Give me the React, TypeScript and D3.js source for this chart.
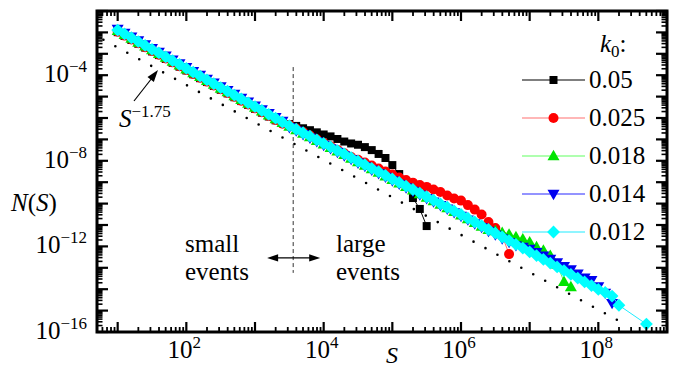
import React from 'react';
import * as d3 from 'd3';

const WIDTH = 676;
const HEIGHT = 371;
const FONT = "'Liberation Serif', 'DejaVu Serif', serif";

// log10(S) bin centres
const logS = [
  1.0, 1.1, 1.2, 1.3, 1.4, 1.5, 1.6, 1.7, 1.8, 1.9,
  2.0, 2.1, 2.2, 2.3, 2.4, 2.5, 2.6, 2.7, 2.8, 2.9,
  3.0, 3.1, 3.2, 3.3, 3.4, 3.5, 3.6, 3.7, 3.8, 3.9,
  4.0, 4.1, 4.2, 4.3, 4.4, 4.5, 4.6, 4.7, 4.8, 4.9,
  5.0, 5.1, 5.2, 5.3, 5.4, 5.5, 5.6, 5.7, 5.8, 5.9,
  6.0, 6.1, 6.2, 6.3, 6.4, 6.5, 6.6, 6.7, 6.8, 6.9,
  7.0, 7.1, 7.2, 7.3, 7.4, 7.5, 7.6, 7.7, 7.8, 7.9,
  8.0, 8.1, 8.2, 8.3, 8.4, 8.5, 8.6, 8.7,
];

// log10 N(S), one array per k0 (null = empty bin)
const n005 = [
  -1.99, -2.17, -2.35, -2.53, -2.71, -2.89, -3.06, -3.24, -3.42, -3.60,
  -3.78, -3.96, -4.14, -4.32, -4.50, -4.68, -4.85, -5.03, -5.21, -5.39,
  -5.57, -5.75, -5.93, -6.11, -6.21, -6.28, -6.37, -6.48, -6.57, -6.67,
  -6.77, -6.86, -6.98, -7.10, -7.19, -7.25, -7.36, -7.50, -7.68, -7.87,
  -8.20, -8.62, -9.22, -9.74, -10.25, -11.05,
];
const n0025 = [
  -1.97, -2.15, -2.33, -2.51, -2.69, -2.87, -3.04, -3.22, -3.40, -3.58,
  -3.76, -3.94, -4.12, -4.30, -4.48, -4.66, -4.83, -5.01, -5.19, -5.37,
  -5.55, -5.73, -5.91, -6.09, -6.27, -6.33, -6.49, -6.66, -6.82, -6.99,
  -7.16, -7.32, -7.49, -7.65, -7.82, -7.95, -8.08, -8.22, -8.36, -8.50,
  -8.64, -8.78, -8.90, -9.02, -9.13, -9.22, -9.34, -9.46, -9.62, -9.76,
  -9.86, -10.07, -10.28, -10.51, -10.86, -11.14, -11.51, -12.36,
];
const n0018 = [
  -1.93, -2.11, -2.29, -2.47, -2.65, -2.83, -3.00, -3.18, -3.36, -3.54,
  -3.72, -3.90, -4.08, -4.26, -4.44, -4.62, -4.79, -4.97, -5.15, -5.33,
  -5.51, -5.69, -5.87, -6.05, -6.23, -6.40, -6.56, -6.73, -6.89, -7.06,
  -7.23, -7.39, -7.56, -7.72, -7.89, -8.06, -8.22, -8.39, -8.55, -8.72,
  -8.89, -9.05, -9.22, -9.38, -9.55, -9.72, -9.88, -10.05, -10.21, -10.38,
  -10.55, -10.72, -10.90, -11.07, -11.22, -11.28, -11.36, -11.44, -11.56, -11.66,
  -11.80, -12.03, -12.19, -12.43, -12.85, -13.65, -13.90,
];
const n0014 = [
  -1.84, -2.02, -2.20, -2.38, -2.56, -2.74, -2.91, -3.09, -3.27, -3.45,
  -3.63, -3.81, -3.99, -4.17, -4.35, -4.53, -4.70, -4.88, -5.06, -5.24,
  -5.42, -5.60, -5.78, -5.96, -6.14, -6.43, -6.59, -6.76, -6.92, -7.09,
  -7.26, -7.42, -7.59, -7.75, -7.92, -8.09, -8.25, -8.42, -8.58, -8.75,
  -8.92, -9.08, -9.25, -9.41, -9.58, -9.75, -9.91, -10.08, -10.24, -10.41,
  -10.58, -10.75, -10.93, -11.10, -11.28, -11.45, -11.63, -11.80, -11.95, -12.03,
  -12.12, -12.27, -12.43, -12.59, -12.75, -12.92, -13.08, -13.28, -13.46, -13.58,
  -13.87, -14.17, -14.65,
];
const n0012 = [
  -1.89, -2.07, -2.25, -2.43, -2.61, -2.79, -2.96, -3.14, -3.32, -3.50,
  -3.68, -3.86, -4.04, -4.22, -4.40, -4.58, -4.75, -4.93, -5.11, -5.29,
  -5.47, -5.65, -5.83, -6.01, -6.19, -6.36, -6.52, -6.69, -6.85, -7.02,
  -7.19, -7.35, -7.52, -7.68, -7.85, -8.02, -8.18, -8.35, -8.51, -8.68,
  -8.85, -9.01, -9.18, -9.34, -9.51, -9.68, -9.84, -10.01, -10.17, -10.34,
  -10.51, -10.68, -10.86, -11.03, -11.21, -11.38, -11.56, -11.73, -11.91, -12.08,
  -12.26, -12.43, -12.61, -12.78, -12.96, -13.13, -13.31, -13.48, -13.66, -13.83,
  -14.01, -14.15, -14.32, -14.75, null, null, null, -15.63,
];

const k0Labels = ['0.05', '0.025', '0.018', '0.014', '0.012'];
const seriesValues = [n005, n0025, n0018, n0014, n0012];
const markerColors = ['#000000', '#ff0000', '#00e400', '#0000f0', '#00ffff'];
const lineColors = ['#000000', '#ff7070', '#60ff60', '#2828ff', '#20ecff'];
const markerShapes = ['square', 'circle', 'up', 'down', 'diamond'];

const xLabelPowers = [2, 4, 6, 8];
const yLabelPowers = [-4, -8, -12, -16];

// guide power law S^-1.75
const guideExponent = -1.75;
const guidePrefactor = 0.11;
const guideRange = [6.2, 2.0e8];
// small / large events boundary
const splitS = 3600;

function markerPath(shape: string, cx: number, cy: number) {
  switch (shape) {
    case 'square':
      return `M${cx - 4},${cy - 4}h8v8h-8Z`;
    case 'circle':
      return `M${cx - 5},${cy}a5,5 0 1,0 10,0a5,5 0 1,0 -10,0Z`;
    case 'up':
      return `M${cx},${cy - 6.2}L${cx + 6},${cy + 4.2}L${cx - 6},${cy + 4.2}Z`;
    case 'down':
      return `M${cx},${cy + 6.2}L${cx + 6},${cy - 4.2}L${cx - 6},${cy - 4.2}Z`;
    default:
      return `M${cx},${cy - 6.4}L${cx + 6.4},${cy}L${cx},${cy + 6.4}L${cx - 6.4},${cy}Z`;
  }
}

function arrowHead(x1: number, y1: number, x2: number, y2: number, len = 11, half = 3.6) {
  const a = Math.atan2(y2 - y1, x2 - x1);
  const bx = x2 - len * Math.cos(a);
  const by = y2 - len * Math.sin(a);
  const px = -Math.sin(a) * half;
  const py = Math.cos(a) * half;
  return `${x2},${y2} ${bx + px},${by + py} ${bx - px},${by - py}`;
}

const App = () => {
  const x = d3.scaleLog().domain([5, 1e9]).range([97, 667]);
  const y = d3.scaleLog().domain([1e-16, 1e-1]).range([332, 11]);
  const [x0, x1] = x.range();
  const [y0, y1] = y.range();

  const xTicks: { v: number; major: boolean }[] = [];
  for (let p = 0; p <= 9; p++)
    for (let m = 1; m <= 9; m++) {
      const v = m * Math.pow(10, p);
      if (v >= 5 && v <= 1e9) xTicks.push({ v, major: m === 1 });
    }
  const yTicks: { v: number; major: boolean }[] = [];
  for (let p = -16; p <= -1; p++)
    for (let m = 1; m <= 9; m++) {
      const v = m * Math.pow(10, p);
      if (v <= 0.1 * 1.0001) yTicks.push({ v, major: m === 1 });
    }

  const line = d3
    .line<[number, number]>()
    .x((d) => x(Math.pow(10, d[0])))
    .y((d) => y(Math.pow(10, d[1])));

  const series = seriesValues.map((vals) =>
    vals
      .map((v, i) => (v === null ? null : ([logS[i], v] as [number, number])))
      .filter((d): d is [number, number] => d !== null)
  );

  const guidePts = guideRange.map((s) => [x(s), y(guidePrefactor * Math.pow(s, guideExponent))]);

  const xs = x(splitS);
  const arrowY = y(2.9e-13);
  const arrowL = x(1500);
  const arrowR = x(8900);

  const legendX0 = 522;
  const legendX1 = 585;
  const legendRows = [80, 118, 156, 194, 232];

  const lbl = { fontFamily: FONT, fontSize: 25, fill: '#000' } as const;

  return (
    <svg
      width={WIDTH}
      height={HEIGHT}
      style={{ position: 'absolute', left: 0, top: 0, background: '#fff', fontFamily: FONT }}
    >
      {/* guide line */}
      <line
        x1={guidePts[0][0]}
        y1={guidePts[0][1]}
        x2={guidePts[1][0]}
        y2={guidePts[1][1]}
        stroke="#000"
        strokeWidth={2.6}
        strokeLinecap="round"
        strokeDasharray="0 13.6"
      />

      {/* split line and arrows */}
      <line x1={xs} x2={xs} y1={y(2.4e-4)} y2={y(5.8e-14)} stroke="#333" strokeWidth={1} strokeDasharray="4 3" />
      <line x1={arrowL + 6} x2={arrowR - 6} y1={arrowY} y2={arrowY} stroke="#000" strokeWidth={1.3} />
      <polygon points={arrowHead(arrowR - 10, arrowY, arrowL, arrowY)} fill="#000" />
      <polygon points={arrowHead(arrowL + 10, arrowY, arrowR, arrowY)} fill="#000" />

      {/* series */}
      {series.map((pts, k) => (
        <g key={k0Labels[k]}>
          <path d={line(pts) || ''} fill="none" stroke={lineColors[k]} strokeWidth={1} />
          {pts.map((d, i) => (
            <path
              key={i}
              d={markerPath(markerShapes[k], x(Math.pow(10, d[0])), y(Math.pow(10, d[1])))}
              fill={markerColors[k]}
            />
          ))}
        </g>
      ))}

      {/* ticks */}
      {xTicks.map((t, i) => {
        const px = x(t.v);
        const len = t.major ? 10 : 5;
        return (
          <g key={'xt' + i} stroke="#000" strokeWidth={t.major ? 2.2 : 1.8}>
            <line x1={px} x2={px} y1={y0} y2={y0 - len} />
            <line x1={px} x2={px} y1={y1} y2={y1 + len} />
          </g>
        );
      })}
      {yTicks.map((t, i) => {
        const py = y(t.v);
        const len = t.major ? 11 : 5.5;
        return (
          <g key={'yt' + i} stroke="#000" strokeWidth={t.major ? 2.2 : 1.6}>
            <line x1={x0} x2={x0 + len} y1={py} y2={py} />
            <line x1={x1} x2={x1 - len} y1={py} y2={py} />
          </g>
        );
      })}

      {/* frame */}
      <rect x={x0} y={y1} width={x1 - x0} height={y0 - y1} fill="none" stroke="#000" strokeWidth={3} />

      {/* tick labels */}
      {xLabelPowers.map((p) => (
        <text key={'xl' + p} x={x(Math.pow(10, p)) - 2} y={358} textAnchor="middle" {...lbl}>
          10
          <tspan dy={-10} fontSize={17}>
            {p}
          </tspan>
        </text>
      ))}
      {yLabelPowers.map((p) => (
        <text key={'yl' + p} x={87} y={y(Math.pow(10, p)) + 7} textAnchor="end" {...lbl}>
          10
          <tspan dy={-10} fontSize={17}>
            {'\u2212' + Math.abs(p)}
          </tspan>
        </text>
      ))}

      {/* axis titles */}
      <text x={11} y={211} {...lbl}>
        <tspan fontStyle="italic">N</tspan>(<tspan fontStyle="italic">S</tspan>)
      </text>
      <text x={386} y={363} {...lbl} fontSize={24} fontStyle="italic">
        S
      </text>

      {/* power law label */}
      <line x1={134} y1={101} x2={152} y2={78} stroke="#000" strokeWidth={1.2} />
      <polygon points={arrowHead(134, 101, 158, 70, 12, 4)} fill="#000" />
      <text x={119} y={127} {...lbl}>
        <tspan fontStyle="italic">S</tspan>
        <tspan dy={-10} fontSize={17}>
          {'\u22121.75'}
        </tspan>
      </text>

      {/* event labels */}
      <text x={185} y={252} {...lbl}>small</text>
      <text x={185} y={280} {...lbl}>events</text>
      <text x={336} y={252} {...lbl}>large</text>
      <text x={336} y={280} {...lbl}>events</text>

      {/* legend */}
      <text x={600} y={52} {...lbl}>
        <tspan fontStyle="italic">k</tspan>
        <tspan dy={5} fontSize={17}>0</tspan>
        <tspan dy={-5}>:</tspan>
      </text>
      {k0Labels.map((name, k) => {
        const ry = legendRows[k];
        return (
          <g key={'lg' + name}>
            <line x1={legendX0} x2={legendX1} y1={ry} y2={ry} stroke={lineColors[k]} strokeWidth={1.2} />
            <path d={markerPath(markerShapes[k], (legendX0 + legendX1) / 2, ry)} fill={markerColors[k]} />
            <text x={589} y={ry + 8} {...lbl}>
              {name}
            </text>
          </g>
        );
      })}
    </svg>
  );
};

export default App;
